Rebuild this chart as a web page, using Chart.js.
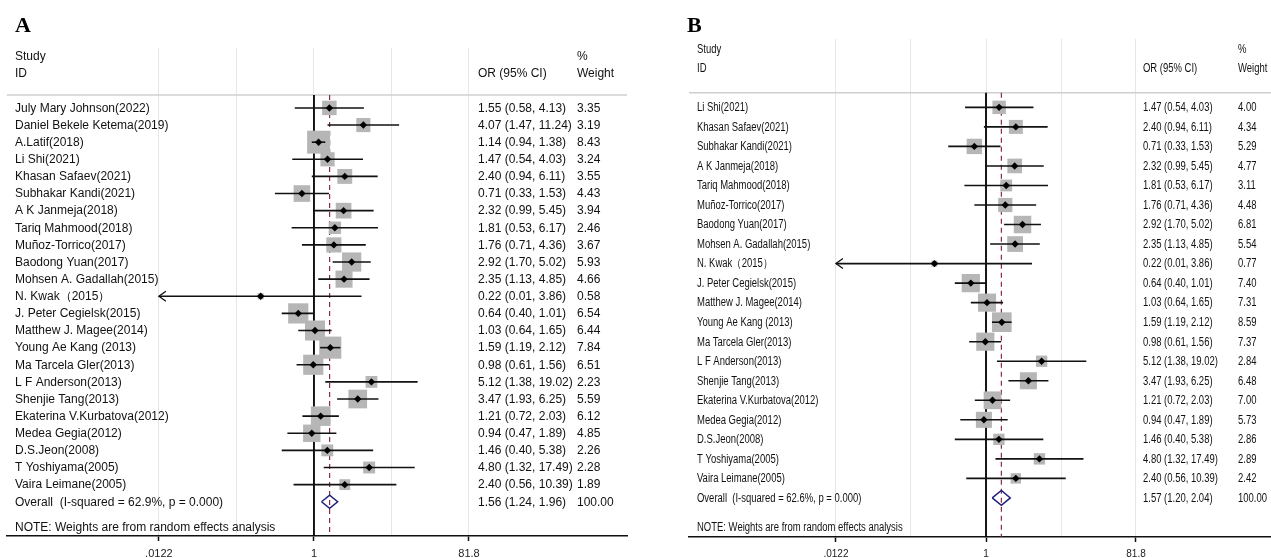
<!DOCTYPE html>
<html>
<head>
<meta charset="utf-8">
<script src="https://cdn.jsdelivr.net/npm/chart.js@4.4.1/dist/chart.umd.min.js"></script>
<style>
	body { margin: 0; background: #fff; }
	#wrap { position: relative; width: 1271px; height: 558px; background: #fff; }
	canvas { position: absolute; top: 0; }
	#forestA { left: 0; }
	#forestB { left: 650px; }
</style>
</head>
<body>
<div id="wrap">
	<canvas id="forestA" width="650" height="558"></canvas>
	<canvas id="forestB" width="621" height="558"></canvas>
</div>
<script>
// axis ticks (log scale of OR)
var tickValues = [0.0122, 1, 81.8];
var tickLabels = ['.0122', '1', '81.8'];
var gridValues = [0.0122, 0.1105, 1, 9.045, 81.8];

// panel A
var studiesA = ['July Mary Johnson(2022)', 'Daniel Bekele Ketema(2019)', 'A.Latif(2018)', 'Li Shi(2021)',
	'Khasan Safaev(2021)', 'Subhakar Kandi(2021)', 'A K Janmeja(2018)', 'Tariq Mahmood(2018)',
	'Muñoz-Torrico(2017)', 'Baodong Yuan(2017)', 'Mohsen A. Gadallah(2015)', 'N. Kwak（2015）',
	'J. Peter Cegielsk(2015)', 'Matthew J. Magee(2014)', 'Young Ae Kang (2013)', 'Ma Tarcela Gler(2013)',
	'L F Anderson(2013)', 'Shenjie Tang(2013)', 'Ekaterina V.Kurbatova(2012)', 'Medea Gegia(2012)',
	'D.S.Jeon(2008)', 'T Yoshiyama(2005)', 'Vaira Leimane(2005)'];
var orA = [1.55, 4.07, 1.14, 1.47, 2.40, 0.71, 2.32, 1.81, 1.76, 2.92, 2.35, 0.22, 0.64, 1.03, 1.59, 0.98, 5.12, 3.47, 1.21, 0.94, 1.46, 4.80, 2.40];
var loA = [0.58, 1.47, 0.94, 0.54, 0.94, 0.33, 0.99, 0.53, 0.71, 1.70, 1.13, 0.01, 0.40, 0.64, 1.19, 0.61, 1.38, 1.93, 0.72, 0.47, 0.40, 1.32, 0.56];
var hiA = [4.13, 11.24, 1.38, 4.03, 6.11, 1.53, 5.45, 6.17, 4.36, 5.02, 4.85, 3.86, 1.01, 1.65, 2.12, 1.56, 19.02, 6.25, 2.03, 1.89, 5.38, 17.49, 10.39];
var weightA = [3.35, 3.19, 8.43, 3.24, 3.55, 4.43, 3.94, 2.46, 3.67, 5.93, 4.66, 0.58, 6.54, 6.44, 7.84, 6.51, 2.23, 5.59, 6.12, 4.85, 2.26, 2.28, 1.89];
var overallA = [1.56, 1.24, 1.96];
var hetA = [62.9, '0.000'];

// panel B
var studiesB = ['Li Shi(2021)', 'Khasan Safaev(2021)', 'Subhakar Kandi(2021)', 'A K Janmeja(2018)',
	'Tariq Mahmood(2018)', 'Muñoz-Torrico(2017)', 'Baodong Yuan(2017)', 'Mohsen A. Gadallah(2015)',
	'N. Kwak（2015）', 'J. Peter Cegielsk(2015)', 'Matthew J. Magee(2014)', 'Young Ae Kang (2013)',
	'Ma Tarcela Gler(2013)', 'L F Anderson(2013)', 'Shenjie Tang(2013)', 'Ekaterina V.Kurbatova(2012)',
	'Medea Gegia(2012)', 'D.S.Jeon(2008)', 'T Yoshiyama(2005)', 'Vaira Leimane(2005)'];
var orB = [1.47, 2.40, 0.71, 2.32, 1.81, 1.76, 2.92, 2.35, 0.22, 0.64, 1.03, 1.59, 0.98, 5.12, 3.47, 1.21, 0.94, 1.46, 4.80, 2.40];
var loB = [0.54, 0.94, 0.33, 0.99, 0.53, 0.71, 1.70, 1.13, 0.01, 0.40, 0.64, 1.19, 0.61, 1.38, 1.93, 0.72, 0.47, 0.40, 1.32, 0.56];
var hiB = [4.03, 6.11, 1.53, 5.45, 6.17, 4.36, 5.02, 4.85, 3.86, 1.01, 1.65, 2.12, 1.56, 19.02, 6.25, 2.03, 1.89, 5.38, 17.49, 10.39];
var weightB = [4.00, 4.34, 5.29, 4.77, 3.11, 4.48, 6.81, 5.54, 0.77, 7.40, 7.31, 8.59, 7.37, 2.84, 6.48, 7.00, 5.73, 2.86, 2.89, 2.42];
var overallB = [1.57, 1.20, 2.04];
var hetB = [62.6, '0.000'];

var HEADER_ROW = -0.75;
var clipMin = tickValues[0], clipMax = tickValues[tickValues.length - 1];

function fmtCI(o, l, h) {
	return o.toFixed(2) + ' (' + l.toFixed(2) + ', ' + h.toFixed(2) + ')';
}

function forest(id, p) {
	var n = p.names.length;
	var datasets = [];

	// null line and pooled estimate line
	datasets.push({
		data: [{x: 1, y: HEADER_ROW}, {x: 1, y: n + 2}],
		showLine: true, borderColor: '#000', borderWidth: 1.8, pointRadius: 0, order: 4
	});
	datasets.push({
		data: [{x: p.overall[0], y: HEADER_ROW}, {x: p.overall[0], y: n + 2}],
		showLine: true, borderColor: '#8b2c44', borderWidth: 1.2, borderDash: [5, 4], pointRadius: 0, order: 4
	});

	// weight boxes
	datasets.push({
		data: p.or.map(function(v, i) { return {x: v, y: i}; }),
		pointStyle: 'rect',
		pointRadius: function(c) { return p.boxK * Math.sqrt(p.w[c.dataIndex]) / Math.SQRT2; },
		pointBackgroundColor: '#b6b6b6', pointBorderWidth: 0, order: 3
	});

	// confidence intervals
	p.or.forEach(function(v, i) {
		datasets.push({
			data: [{x: Math.max(p.lo[i], clipMin), y: i}, {x: Math.min(p.hi[i], clipMax), y: i}],
			showLine: true, borderColor: '#111', borderWidth: 1.6, pointRadius: 0, order: 2
		});
	});

	// point estimates
	datasets.push({
		data: p.or.map(function(v, i) { return {x: v, y: i}; }),
		pointStyle: 'rectRot', pointRadius: 3.7,
		pointBackgroundColor: '#000', pointBorderWidth: 0, order: 1
	});

	// overall diamond
	var o = p.overall;
	datasets.push({
		data: [{x: o[1], y: n}, {x: o[0], y: n - 0.38}, {x: o[2], y: n}, {x: o[0], y: n + 0.38}, {x: o[1], y: n}],
		showLine: true, borderColor: '#1f1f7a', borderWidth: 1.5, pointRadius: 0, order: 1
	});

	var textPlugin = {
		id: 'forestText',
		beforeDatasetsDraw: function(chart) {
			var ctx = chart.ctx, a = chart.chartArea;
			var y = chart.scales.y.getPixelForValue(HEADER_ROW);
			ctx.save();
			ctx.strokeStyle = '#cfcfcf';
			ctx.lineWidth = 1.5;
			ctx.beginPath();
			ctx.moveTo(a.left, y);
			ctx.lineTo(a.right, y);
			ctx.stroke();
			ctx.restore();
		},
		afterDatasetsDraw: function(chart) {
			var ctx = chart.ctx;
			var xs = chart.scales.x, ys = chart.scales.y;
			ctx.save();

			// arrows where the CI runs off the axis
			ctx.strokeStyle = '#111';
			ctx.lineWidth = 1.3;
			p.lo.forEach(function(l, i) {
				if (l < clipMin) {
					var x = xs.getPixelForValue(clipMin), y = ys.getPixelForValue(i);
					ctx.beginPath();
					ctx.moveTo(x + 7, y - 5);
					ctx.lineTo(x, y);
					ctx.lineTo(x + 7, y + 5);
					ctx.stroke();
				}
			});

			// panel letter
			ctx.fillStyle = '#000';
			ctx.textBaseline = 'alphabetic';
			ctx.font = 'bold 22px "Liberation Serif", "Times New Roman", serif';
			ctx.fillText(p.letter, p.letterX, 32);

			// header and rows (B uses a condensed face)
			ctx.font = p.font;
			ctx.fillStyle = '#111';
			ctx.textBaseline = 'middle';
			var text = function(s, x, r) {
				ctx.save();
				ctx.translate(x, ys.getPixelForValue(r) + 0.5);
				ctx.scale(p.sx, 1);
				ctx.fillText(s, 0, 0);
				ctx.restore();
			};
			text('Study', p.col[0], -3);
			text('ID', p.col[0], -2);
			text('OR (95% CI)', p.col[1], -2);
			text('%', p.col[2], -3);
			text('Weight', p.col[2], -2);

			p.names.forEach(function(name, i) {
				text(name, p.col[0], i);
				text(fmtCI(p.or[i], p.lo[i], p.hi[i]), p.col[1], i);
				text(p.w[i].toFixed(2), p.col[2], i);
			});
			text('Overall  (I-squared = ' + p.het[0] + '%, p = ' + p.het[1] + ')', p.col[0], n);
			text(fmtCI(o[0], o[1], o[2]), p.col[1], n);
			text('100.00', p.col[2], n);
			text('NOTE: Weights are from random effects analysis', p.col[0], n + 1.5);
			ctx.restore();
		}
	};

	return new Chart(document.getElementById(id), {
		type: 'scatter',
		data: { datasets: datasets },
		options: {
			responsive: false,
			animation: false,
			events: [],
			layout: { padding: p.padding, autoPadding: false },
			plugins: {
				legend: { display: false },
				tooltip: { enabled: false }
			},
			scales: {
				x: {
					type: 'logarithmic',
					min: 1.63e-4,
					max: p.xMax,
					afterBuildTicks: function(s) {
						s.ticks = gridValues.map(function(v) { return {value: v}; });
					},
					afterFit: function(s) { s.height = p.axisH; },
					ticks: {
						autoSkip: false, maxRotation: 0, minRotation: 0, padding: 6,
						color: '#222', font: p.tickFont,
						callback: function(v) {
							var k = tickValues.indexOf(v);
							return k < 0 ? '' : tickLabels[k];
						}
					},
					grid: {
						color: '#e6e6e6', lineWidth: 1,
						drawTicks: true, tickLength: 5, tickWidth: 1.5,
						tickColor: function(c) {
							return (c.tick && tickValues.indexOf(c.tick.value) >= 0) ? '#111' : 'rgba(0,0,0,0)';
						}
					},
					border: { display: true, color: '#111', width: 1.5 }
				},
				y: {
					type: 'linear', display: false, reverse: true,
					min: -3.5, max: n + 2
				}
			}
		},
		plugins: [textPlugin]
	});
}

forest('forestA', {
	names: studiesA, or: orA, lo: loA, hi: hiA, w: weightA, overall: overallA, het: hetA,
	letter: 'A', letterX: 15, col: [15, 478, 577], boxK: 7.9, sx: 1,
	font: '12px "Liberation Sans", Arial, sans-serif',
	tickFont: { family: '"Liberation Sans", Arial, sans-serif', size: 11 },
	padding: { left: 7, right: 23, top: 48, bottom: 0 },
	xMax: 7290, axisH: 22
});

forest('forestB', {
	names: studiesB, or: orB, lo: loB, hi: hiB, w: weightB, overall: overallB, het: hetB,
	letter: 'B', letterX: 37, col: [47, 493, 588], boxK: 6.7, sx: 0.79,
	font: '12px "Liberation Sans", Arial, sans-serif',
	tickFont: { family: '"Liberation Sans", Arial, sans-serif', size: 10 },
	padding: { left: 39, right: 0, top: 39, bottom: 0 },
	xMax: 4310, axisH: 21
});
</script>
</body>
</html>
